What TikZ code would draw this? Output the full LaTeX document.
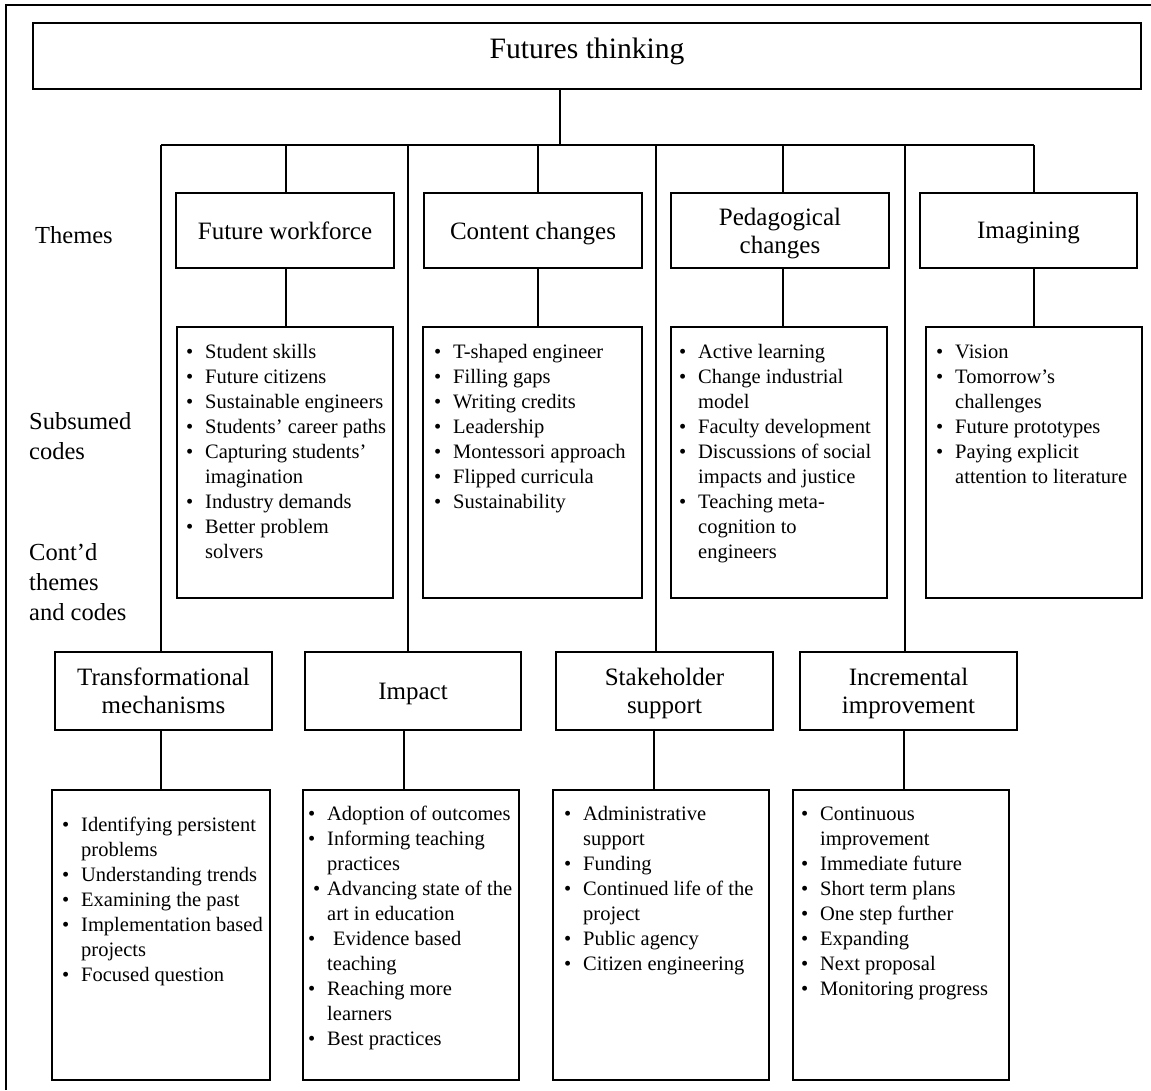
\documentclass[tikz,border=0pt]{standalone}
\usepackage{fontspec}
\setmainfont{Liberation Serif}

% bullet line and continuation line inside a code list
\newlength{\bulind}
\setlength{\bulind}{19pt}
\newcommand{\bul}[1]{\makebox[\bulind][l]{\textbullet}#1}
\newcommand{\cnt}[1]{\hspace*{\bulind}#1}

\tikzset{
  frame/.style={line width=2pt, black},
  link/.style={line width=1.3pt, black},
  themebox/.style={draw=black, line width=1.3pt, inner sep=0pt, align=center,
    text depth=0pt, font=\fontsize{25}{28}\selectfont},
  codebox/.style={draw=black, line width=1.3pt, inner sep=0pt},
  codetext/.style={anchor=north west, inner sep=0pt, align=left,
    font=\fontsize{20.5}{25}\selectfont},
  sidelabel/.style={anchor=north west, inner sep=0pt, align=left,
    font=\fontsize{24.5}{30}\selectfont},
}

\begin{document}
\begin{tikzpicture}[x=1pt, y=-1pt]
\useasboundingbox (0,0) rectangle (1151,1090);

% outer frame
\draw[frame] (6,1090) -- (6,5) -- (1151,5);

% title
\node[draw=black, line width=1.3pt, inner sep=0pt, minimum width=1108pt, minimum height=66pt,
      text height=20pt, text depth=16pt, font=\fontsize{29.6}{34}\selectfont]
      (title) at (587,56) {Futures thinking};

% row labels
\node[sidelabel] (lthemes) at (35,222) {\strut Themes};
\node[sidelabel] (lcodes) at (29,408) {\strut Subsumed\\codes};
\node[sidelabel] (lcont) at (29,539) {\strut Cont’d\\themes\\and codes};

% first row of themes
\node[themebox, minimum width=218pt, minimum height=75pt] (fw) at (285,230.5) {Future workforce};
\node[themebox, minimum width=218pt, minimum height=75pt] (cc) at (533,230.5) {Content changes};
\node[themebox, minimum width=218pt, minimum height=75pt] (pc) at (780,230.5) {Pedagogical\\changes};
\node[themebox, minimum width=217pt, minimum height=75pt] (im) at (1028.5,230.5) {Imagining};

% first row of code boxes
\node[codebox, minimum width=216pt, minimum height=271pt] (fwc) at (285,462.5) {};
\node[codebox, minimum width=219pt, minimum height=271pt] (ccc) at (532.5,462.5) {};
\node[codebox, minimum width=216pt, minimum height=271pt] (pcc) at (779,462.5) {};
\node[codebox, minimum width=216pt, minimum height=271pt] (imc) at (1034,462.5) {};

\node[codetext] (fwt) at (186,340.5) {\strut\bul{Student skills}\\
  \bul{Future citizens}\\
  \bul{Sustainable engineers}\\
  \bul{Students’ career paths}\\
  \bul{Capturing students’}\\
  \cnt{imagination}\\
  \bul{Industry demands}\\
  \bul{Better problem}\\
  \cnt{solvers}};
\node[codetext] (cct) at (434,340.5) {\strut\bul{T-shaped engineer}\\
  \bul{Filling gaps}\\
  \bul{Writing credits}\\
  \bul{Leadership}\\
  \bul{Montessori approach}\\
  \bul{Flipped curricula}\\
  \bul{Sustainability}};
\node[codetext] (pct) at (679,340.5) {\strut\bul{Active learning}\\
  \bul{Change industrial}\\
  \cnt{model}\\
  \bul{Faculty development}\\
  \bul{Discussions of social}\\
  \cnt{impacts and justice}\\
  \bul{Teaching meta-}\\
  \cnt{cognition to}\\
  \cnt{engineers}};
\node[codetext] (imt) at (936,340.5) {\strut\bul{Vision}\\
  \bul{Tomorrow’s}\\
  \cnt{challenges}\\
  \bul{Future prototypes}\\
  \bul{Paying explicit}\\
  \cnt{attention to literature}};

% second row of themes
\node[themebox, minimum width=217pt, minimum height=78pt] (tm) at (163.5,691) {Transformational\\mechanisms};
\node[themebox, minimum width=216pt, minimum height=78pt] (ip) at (413,691) {Impact};
\node[themebox, minimum width=217pt, minimum height=78pt] (ss) at (664.5,691) {Stakeholder\\support};
\node[themebox, minimum width=217pt, minimum height=78pt] (ii) at (908.5,691) {Incremental\\improvement};

% second row of code boxes
\node[codebox, minimum width=218pt, minimum height=290pt] (tmc) at (161,935) {};
\node[codebox, minimum width=216pt, minimum height=290pt] (ipc) at (411,935) {};
\node[codebox, minimum width=216pt, minimum height=290pt] (ssc) at (661,935) {};
\node[codebox, minimum width=216pt, minimum height=290pt] (iic) at (901,935) {};

\node[codetext] (tmt) at (62,813.5) {\strut\bul{Identifying persistent}\\
  \cnt{problems}\\
  \bul{Understanding trends}\\
  \bul{Examining the past}\\
  \bul{Implementation based}\\
  \cnt{projects}\\
  \bul{Focused question}};
\node[codetext] (ipt) at (308,802.5) {\strut\bul{Adoption of outcomes}\\
  \bul{Informing teaching}\\
  \cnt{practices}\\
  \makebox[\bulind][l]{\hspace{5pt}\textbullet}Advancing state of the\\
  \cnt{art in education}\\
  \bul{\hspace{6pt}Evidence based}\\
  \cnt{teaching}\\
  \bul{Reaching more}\\
  \cnt{learners}\\
  \bul{Best practices}};
\node[codetext] (sst) at (564,802.5) {\strut\bul{Administrative}\\
  \cnt{support}\\
  \bul{Funding}\\
  \bul{Continued life of the}\\
  \cnt{project}\\
  \bul{Public agency}\\
  \bul{Citizen engineering}};
\node[codetext] (iit) at (801,802.5) {\strut\bul{Continuous}\\
  \cnt{improvement}\\
  \bul{Immediate future}\\
  \bul{Short term plans}\\
  \bul{One step further}\\
  \bul{Expanding}\\
  \bul{Next proposal}\\
  \bul{Monitoring progress}};

% bus under the title
\coordinate (t0) at (560,145);
\coordinate (b1) at (161,145);
\coordinate (b2) at (286,145);
\coordinate (b3) at (408,145);
\coordinate (b4) at (538,145);
\coordinate (b5) at (656,145);
\coordinate (b6) at (783,145);
\coordinate (b7) at (905,145);
\coordinate (b8) at (1034,145);

\draw[link] (title.south -| t0) -- (t0);
\draw[link] (b1) -- (b8);

% drops to the first row
\draw[link] (b2) -- (b2 |- fw.north);
\draw[link] (b4) -- (b4 |- cc.north);
\draw[link] (b6) -- (b6 |- pc.north);
\draw[link] (b8) -- (b8 |- im.north);

\draw[link] (fw.south -| b2) -- (b2 |- fwc.north);
\draw[link] (cc.south -| b4) -- (b4 |- ccc.north);
\draw[link] (pc.south -| b6) -- (b6 |- pcc.north);
\draw[link] (im.south -| b8) -- (b8 |- imc.north);

% long drops to the second row
\draw[link] (b1) -- (b1 |- tm.north);
\draw[link] (b3) -- (b3 |- ip.north);
\draw[link] (b5) -- (b5 |- ss.north);
\draw[link] (b7) -- (b7 |- ii.north);

\coordinate (c1) at (161,760);
\coordinate (c2) at (404,760);
\coordinate (c3) at (654,760);
\coordinate (c4) at (904,760);
\draw[link] (tm.south -| c1) -- (c1 |- tmc.north);
\draw[link] (ip.south -| c2) -- (c2 |- ipc.north);
\draw[link] (ss.south -| c3) -- (c3 |- ssc.north);
\draw[link] (ii.south -| c4) -- (c4 |- iic.north);
\end{tikzpicture}
\end{document}
